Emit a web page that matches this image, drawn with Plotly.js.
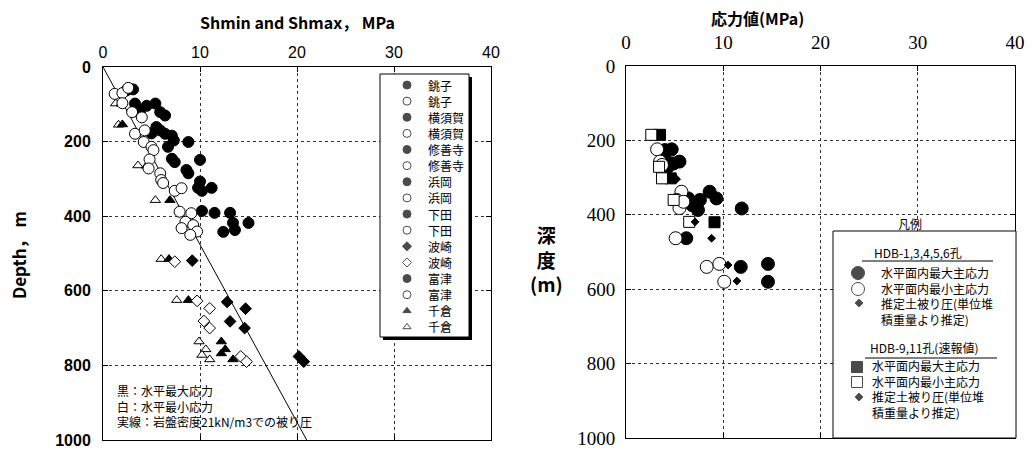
<!DOCTYPE html>
<html>
<head>
<meta charset="utf-8">
<script src="https://cdn.plot.ly/plotly-3.0.1.min.js"></script>
<style>
  html, body { margin: 0; padding: 0; background: #fff; }
  #chart { width: 1032px; height: 453px; }
</style>
</head>
<body>
<div id="chart"></div>
<script>
// ---- Left panel: horizontal stress vs depth at Kanto-area sites ----
// Filled circles: maximum horizontal stress (銚子, 横須賀, 修善寺, 浜岡, 下田, 富津)
const shmaxCircleStress = [2.4, 3.1, 3.3, 3.6, 3.8, 4.5, 5.4, 5.9, 6.4, 5.0, 5.5, 5.9, 6.4, 7.1, 7.3, 6.7, 8.8,
  7.1, 7.4, 8.6, 8.8, 10.0, 10.0, 9.8, 10.2, 11.2, 10.2, 11.5, 13.1, 13.4, 15.0, 13.6, 12.4];
const shmaxCircleDepth = [63, 60, 98, 113, 124, 104, 98, 121, 130, 178, 161, 170, 179, 184, 197, 214, 201,
  246, 255, 276, 285, 249, 307, 324, 332, 324, 386, 391, 391, 418, 418, 437, 442];
// Open circles: minimum horizontal stress at the same sites
const shminCircleStress = [1.2, 2.0, 2.6, 2.0, 3.0, 4.0, 3.3, 4.3, 4.2, 5.0, 5.2, 4.8, 4.7, 5.9, 6.0, 6.2,
  7.4, 8.1, 7.9, 9.1, 8.5, 9.3, 8.1, 9.7, 9.0];
const shminCircleDepth = [72, 70, 56, 97, 121, 135, 179, 170, 201, 214, 223, 248, 272, 285, 303, 311,
  332, 325, 388, 392, 415, 424, 432, 441, 450];
// 波崎
const hasakiMaxStress = [9.2, 12.8, 14.7, 13.1, 14.6, 20.2, 20.7];
const hasakiMaxDepth = [519, 630, 648, 682, 700, 776, 790];
const hasakiMinStress = [7.4, 9.7, 11.0, 10.4, 11.0, 14.2, 14.8];
const hasakiMinDepth = [522, 627, 647, 681, 700, 776, 790];
// 千倉
const chikuraMaxStress = [1.9, 2.0, 4.5, 6.9, 6.8, 8.8, 12.2, 12.6, 12.2, 13.4];
const chikuraMaxDepth = [98, 154, 265, 357, 515, 625, 736, 757, 768, 784];
const chikuraMinStress = [1.3, 1.6, 3.6, 5.4, 6.0, 7.6, 9.9, 10.6, 10.2, 11.0];
const chikuraMinDepth = [98, 155, 264, 357, 515, 625, 736, 757, 772, 784];
// Overburden for rock density 21 kN/m3
const overburdenStress = [0, 21];
const overburdenDepth = [0, 1000];

// ---- Right panel: HDB boreholes ----
const hdbMaxStress = [4.0, 4.7, 4.2, 4.9, 5.5, 4.3, 6.4, 6.8, 7.6, 7.4, 8.6, 9.3, 11.9, 6.2, 11.8, 14.6, 14.6];
const hdbMaxDepth = [226, 224, 257, 262, 257, 271, 356, 374, 360, 387, 338, 356, 383, 463, 540, 532, 580];
const hdbMinStress = [3.2, 3.5, 3.7, 5.7, 5.2, 5.5, 5.9, 5.1, 8.3, 9.6, 10.1];
const hdbMinDepth = [224, 257, 266, 338, 360, 382, 365, 463, 540, 532, 580];
const hdbLoadStress = [8.8, 10.5, 11.4];
const hdbLoadDepth = [463, 535, 578];
const hdb911MaxStress = [3.5, 4.6, 9.1];
const hdb911MaxDepth = [185, 302, 420];
const hdb911MinStress = [2.6, 3.4, 3.7, 4.9, 6.5];
const hdb911MinDepth = [185, 271, 302, 360, 419];
const hdb911LoadStress = [5.2, 7.1];
const hdb911LoadDepth = [304, 419];

// Ticks
const stressTicks = [0, 10, 20, 30, 40];
const depthTicks = [0, 200, 400, 600, 800, 1000];

// Legend of the left panel
const siteNames = ['銚子', '銚子', '横須賀', '横須賀', '修善寺', '修善寺', '浜岡', '浜岡',
  '下田', '下田', '波崎', '波崎', '富津', '富津', '千倉', '千倉'];
const siteSymbols = ['circle', 'circle-open', 'circle', 'circle-open', 'circle', 'circle-open',
  'circle', 'circle-open', 'circle', 'circle-open', 'diamond', 'diamond-open',
  'circle', 'circle-open', 'triangle-up', 'triangle-up-open'];

// Legend of the right panel
const hdbLegendLabels = ['水平面内最大主応力', '水平面内最小主応力', '推定土被り圧(単位堆', '積重量より推定)'];
const hdbGroupTitles = ['HDB-1,3,4,5,6孔', 'HDB-9,11孔(速報値)'];

// Layout constants (pixels)
const W = 1032, H = 453;
const L = {x0: 103, x1: 491, y0: 67, y1: 440};
const R = {x0: 626, x1: 1015, y0: 66, y1: 438};

const JP = '"Noto Sans CJK JP", "Noto Sans", sans-serif';
const SANS = '"Liberation Sans", Arial, sans-serif';
const SERIF = '"Liberation Serif", "Times New Roman", serif';
const black = '#000';

function filled(symbol, size) {
  return {symbol: symbol, size: size, color: black, line: {color: black, width: 1}};
}
function open(symbol, size) {
  return {symbol: symbol, size: size, color: '#fff', line: {color: black, width: 1}};
}
function pts(x, y, marker, xa, ya) {
  return {type: 'scatter', mode: 'markers', x: x, y: y, marker: marker,
    xaxis: xa, yaxis: ya, hoverinfo: 'skip', cliponaxis: true};
}

const traces = [
  {type: 'scatter', mode: 'lines', x: overburdenStress, y: overburdenDepth,
    line: {color: black, width: 1}, xaxis: 'x', yaxis: 'y', hoverinfo: 'skip'},
  pts(chikuraMinStress, chikuraMinDepth, open('triangle-up', 9), 'x', 'y'),
  pts(chikuraMaxStress, chikuraMaxDepth, filled('triangle-up', 9), 'x', 'y'),
  pts(shmaxCircleStress, shmaxCircleDepth, filled('circle', 11), 'x', 'y'),
  pts(shminCircleStress, shminCircleDepth, open('circle', 11), 'x', 'y'),
  pts(hasakiMaxStress, hasakiMaxDepth, filled('diamond', 9), 'x', 'y'),
  pts(hasakiMinStress, hasakiMinDepth, open('diamond', 9), 'x', 'y'),

  pts(hdbMaxStress, hdbMaxDepth, filled('circle', 13), 'x2', 'y2'),
  pts(hdbMinStress, hdbMinDepth, open('circle', 13), 'x2', 'y2'),
  pts(hdb911MaxStress, hdb911MaxDepth, filled('square', 11), 'x2', 'y2'),
  pts(hdb911MinStress, hdb911MinDepth, open('square', 11), 'x2', 'y2'),
  pts(hdbLoadStress, hdbLoadDepth, filled('diamond', 6), 'x2', 'y2'),
  pts(hdb911LoadStress, hdb911LoadDepth, filled('diamond', 6), 'x2', 'y2')
];

// ---- Legend symbols on a pixel overlay ----
const leftLeg = {x0: 380, x1: 469, y0: 74, y1: 337, markX: 407, textX: 427, firstY: 85, step: 16.13};
const legY = siteNames.map((_, i) => leftLeg.firstY + i * leftLeg.step);
traces.push({
  type: 'scatter', mode: 'markers', xaxis: 'x3', yaxis: 'y3', hoverinfo: 'skip',
  x: siteNames.map(() => leftLeg.markX), y: legY,
  marker: {
    symbol: siteSymbols.map(s => s.replace('-open', '')),
    size: siteSymbols.map(s => s.startsWith('circle') ? 8 : 7),
    color: siteSymbols.map(s => s.endsWith('-open') ? '#fff' : black),
    line: {color: black, width: 1}
  }
});

const rightLeg = {x0: 833, x1: 1016, y0: 231, y1: 438, lineStep: 15.6};
const rLegSym = ['circle', 'circle', 'diamond', 'square', 'square', 'diamond'];
const rLegFill = [black, '#fff', black, black, '#fff', black];
const rLegSize = [13, 13, 6, 11, 11, 6];
const rLegY = [273, 289, 303, 367, 382, 397];
traces.push({
  type: 'scatter', mode: 'markers', xaxis: 'x3', yaxis: 'y3', hoverinfo: 'skip',
  x: [858, 858, 859, 857, 857, 859], y: rLegY,
  marker: {symbol: rLegSym, size: rLegSize, color: rLegFill, line: {color: black, width: 1}}
});

const annotations = [];
function txt(x, y, text, size, opts) {
  annotations.push(Object.assign({
    xref: 'x3', yref: 'y3', x: x, y: y, text: text, showarrow: false,
    xanchor: 'left', yanchor: 'middle', align: 'left', borderpad: 0,
    font: {family: JP, size: size, color: black}
  }, opts || {}));
}
function boldFont(size) {
  return {family: JP, size: size, color: black, weight: 'bold'};
}

siteNames.forEach((n, i) => txt(leftLeg.textX, legY[i], n, 12));

// Notes in the left panel
txt(116, 406, '黒：水平最大応力<br>白：水平最小応力<br>実線：岩盤密度21kN/m3での被り圧', 12);

// Titles
txt((L.x0 + L.x1) / 2, 22, 'Shmin and Shmax， MPa', 16, {xanchor: 'center', font: boldFont(16)});
txt(18, 255, 'Depth， m', 17, {xanchor: 'center', textangle: -90, font: boldFont(17)});
txt(757, 18, '応力値(MPa)', 16, {xanchor: 'center', font: boldFont(16)});
txt(546, 259, '深<br>度<br>(m)', 19, {xanchor: 'center', align: 'center', font: boldFont(19)});

// Right legend texts: each group's four lines set as one block
const legendBlock = hdbLegendLabels.join('<br>');
txt(910, 223, '凡例', 12, {xanchor: 'center'});
txt(873, 252, hdbGroupTitles[0], 12);
txt(880, 273 + 1.5 * rightLeg.lineStep, legendBlock, 12);
txt(869, 347, hdbGroupTitles[1], 12);
txt(871, 366 + 1.5 * rightLeg.lineStep, legendBlock, 12);

const shapes = [
  // left legend: drop shadow, then box
  {type: 'rect', xref: 'x3', yref: 'y3', layer: 'below', x0: leftLeg.x0 + 3, x1: leftLeg.x1 + 3,
    y0: leftLeg.y0 + 3, y1: leftLeg.y1 + 3, fillcolor: black, line: {width: 0}},
  {type: 'rect', xref: 'x3', yref: 'y3', layer: 'below', x0: leftLeg.x0, x1: leftLeg.x1,
    y0: leftLeg.y0, y1: leftLeg.y1, fillcolor: '#fff', line: {color: black, width: 1}},
  // right legend box and separators
  {type: 'rect', xref: 'x3', yref: 'y3', layer: 'below', x0: rightLeg.x0, x1: rightLeg.x1,
    y0: rightLeg.y0, y1: rightLeg.y1, fillcolor: '#fff', line: {color: black, width: 1}},
  {type: 'line', xref: 'x3', yref: 'y3', layer: 'below', x0: 862, x1: 993, y0: 261, y1: 261,
    line: {color: black, width: 1}},
  {type: 'line', xref: 'x3', yref: 'y3', layer: 'below', x0: 865, x1: 997, y0: 358, y1: 358,
    line: {color: black, width: 1}}
];

function axisBase(font) {
  return {
    showline: true, linecolor: black, linewidth: 1, mirror: 'ticks',
    showgrid: true, gridcolor: '#333', griddash: 'dot', gridwidth: 1,
    zeroline: false, ticks: 'inside', ticklen: 5, tickcolor: black, tickwidth: 1,
    tickfont: font, fixedrange: true
  };
}

const layout = {
  width: W, height: H,
  margin: {l: 0, r: 0, t: 0, b: 0, pad: 0},
  paper_bgcolor: '#fff', plot_bgcolor: 'rgba(0,0,0,0)',
  showlegend: false,
  xaxis: Object.assign(axisBase({family: SANS, size: 16, color: black}), {
    domain: [L.x0 / W, L.x1 / W], range: [0, 40], side: 'top', anchor: 'y',
    tickvals: stressTicks, ticktext: stressTicks.map(String), ticklabelstandoff: 2
  }),
  yaxis: Object.assign(axisBase({family: SANS, size: 16, color: black, weight: 'bold'}), {
    domain: [1 - L.y1 / H, 1 - L.y0 / H], range: [1000, 0], anchor: 'x',
    tickvals: depthTicks, ticktext: depthTicks.map(String), ticklabelstandoff: 8
  }),
  xaxis2: Object.assign(axisBase({family: SERIF, size: 19, color: black}), {
    domain: [R.x0 / W, R.x1 / W], range: [0, 40], side: 'top', anchor: 'y2',
    tickvals: stressTicks, ticktext: stressTicks.map(String), ticklabelstandoff: 8
  }),
  yaxis2: Object.assign(axisBase({family: SERIF, size: 19, color: black}), {
    domain: [1 - R.y1 / H, 1 - R.y0 / H], range: [1000, 0], anchor: 'x2',
    tickvals: depthTicks, ticktext: depthTicks.map(String), ticklabelstandoff: 6
  }),
  xaxis3: {domain: [0, 1], range: [0, W], anchor: 'y3', visible: false, fixedrange: true},
  yaxis3: {domain: [0, 1], range: [H, 0], anchor: 'x3', visible: false, fixedrange: true},
  shapes: shapes,
  annotations: annotations
};

Plotly.newPlot('chart', traces, layout, {staticPlot: true, displayModeBar: false});
</script>
</body>
</html>
